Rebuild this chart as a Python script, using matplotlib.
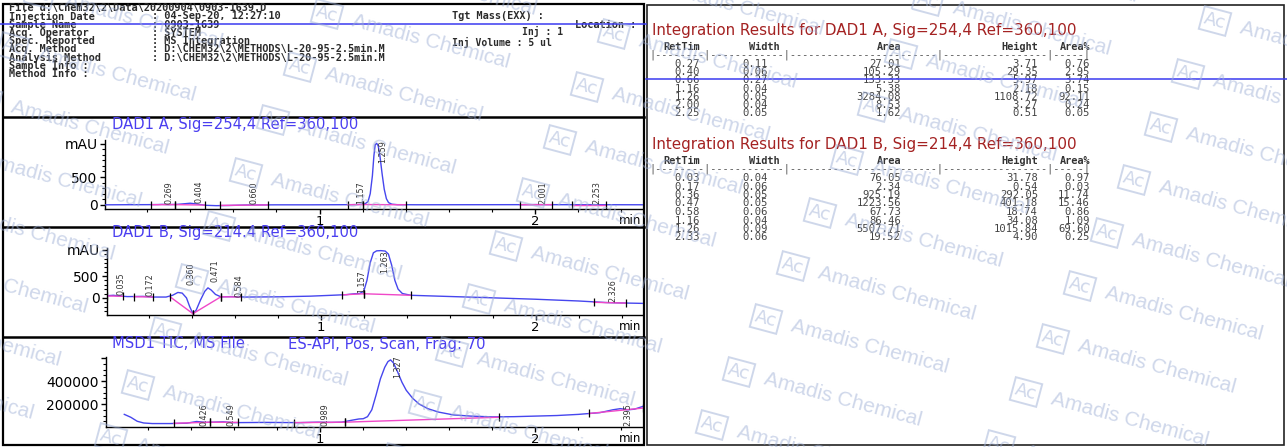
"""
HPLC / LC-MS report page (ChemStation style) with Amadis watermark.
"""

import numpy as np
import matplotlib
matplotlib.use('Agg')
import matplotlib.pyplot as plt
from matplotlib.patches import Rectangle

W, H = 1287, 447

# ── Data ────────────────────────────────────────────────────────────────────
header_labels = ["File d:\\Chem32\\2\\Data\\20200904\\0903-1639.D",
                 "Injection Date", "Sample Name", "Acq. Operator", "Spec. Reported",
                 "Acq. Method", "Analysis Method", "Sample Info :", "Method Info :"]
header_values = ["", ": 04-Sep-20, 12:27:10", ": 0903-1639", ": SYSTEM", ": MS Integration",
                 ": D:\\CHEM32\\2\\METHODS\\L-20-95-2.5min.M",
                 ": D:\\CHEM32\\2\\METHODS\\L-20-95-2.5min.M", "", ""]

col_names = ["RetTim", "Width", "Area", "Height", "Area%"]

tabA_title = "Integration Results for DAD1 A, Sig=254,4 Ref=360,100"
tabA_rt = ["0.27", "0.40", "0.66", "1.16", "1.26", "2.00", "2.25"]
tabA_width = ["0.11", "0.06", "0.27", "0.04", "0.05", "0.04", "0.05"]
tabA_area = ["27.01", "105.29", "133.33", "5.38", "3284.08", "8.53", "1.62"]
tabA_height = ["3.71", "29.35", "5.97", "2.18", "1108.72", "3.27", "0.51"]
tabA_pct = ["0.76", "2.95", "3.74", "0.15", "92.11", "0.24", "0.05"]

tabB_title = "Integration Results for DAD1 B, Sig=214,4 Ref=360,100"
tabB_rt = ["0.03", "0.17", "0.36", "0.47", "0.58", "1.16", "1.26", "2.33"]
tabB_width = ["0.04", "0.06", "0.05", "0.05", "0.06", "0.04", "0.09", "0.06"]
tabB_area = ["76.05", "2.34", "925.19", "1223.56", "67.73", "86.46", "5507.71", "19.52"]
tabB_height = ["31.78", "0.54", "292.05", "401.18", "18.74", "34.08", "1015.84", "4.90"]
tabB_pct = ["0.97", "0.03", "11.74", "15.46", "0.86", "1.09", "69.60", "0.25"]

# DAD1 A trace (min, mAU)
tA = [0.005, 0.10, 0.20, 0.25, 0.27, 0.30, 0.34, 0.37, 0.40, 0.43, 0.47, 0.52, 0.58,
      0.64, 0.66, 0.70, 0.80, 0.95, 1.10, 1.15, 1.18, 1.21, 1.225, 1.235, 1.245, 1.252,
      1.258, 1.265, 1.272, 1.28, 1.29, 1.30, 1.31, 1.32, 1.335, 1.36, 1.45, 1.70, 1.95,
      2.00, 2.05, 2.20, 2.25, 2.30, 2.50]
yA = [0, 2, 3, 5, 8, 4, 8, 18, 29, 15, -8, -15, -12, -5, -3, -2, 0, 0, 2, 3, 6, 15, 60,
      200, 520, 880, 1080, 1105, 1060, 880, 560, 280, 110, 40, 12, 3, 1, 2, 3, 5, 3, 2,
      3, 2, 1]
basesA = [(0.22, 2, 0.33, 4), (0.33, 4, 0.47, -5), (0.54, -10, 0.76, -2),
          (1.13, 2, 1.20, 5), (1.20, 5, 1.40, 1), (1.93, 2, 2.08, 3), (2.17, 2, 2.33, 2)]
peaksA = ["0.269", "0.404", "0.660", "1.157", "1.259", "2.001", "2.253"]
peaksA_y = [20, 40, 20, 20, 760, 20, 20]

# DAD1 B trace (min, mAU)
tB = [0.005, 0.035, 0.06, 0.10, 0.172, 0.22, 0.28, 0.31, 0.335, 0.355, 0.375, 0.39,
      0.405, 0.42, 0.44, 0.46, 0.475, 0.49, 0.51, 0.535, 0.584, 0.65, 0.80, 0.95, 1.05,
      1.12, 1.157, 1.18, 1.20, 1.215, 1.23, 1.245, 1.26, 1.28, 1.30, 1.315, 1.33, 1.345,
      1.36, 1.38, 1.42, 1.55, 1.75, 2.00, 2.20, 2.326, 2.40, 2.50]
yB = [50, 60, 45, 30, 35, 20, 20, 60, 125, 110, 0, -200, -360, -280, -50, 150, 230, 180,
      80, 25, 30, 20, 25, 40, 60, 75, 95, 100, 150, 400, 800, 1030, 1075, 1080, 1070,
      1000, 750, 400, 200, 100, 60, 40, 10, -30, -70, -105, -115, -125]
basesB = [(0.005, 45, 0.08, 38), (0.13, 28, 0.22, 22), (0.30, 20, 0.405, -360),
          (0.405, -360, 0.535, 25), (0.535, 25, 0.63, 22), (1.10, 70, 1.20, 95),
          (1.20, 95, 1.42, 60), (2.27, -100, 2.42, -118)]
peaksB = ["0.035", "0.172", "0.360", "0.471", "0.584", "1.157", "1.263", "2.326"]
peaksB_y = [60, 40, 300, 370, 30, 110, 580, -90]

# MSD1 TIC trace (min, counts)
tC = [0.09, 0.12, 0.15, 0.18, 0.22, 0.30, 0.38, 0.426, 0.47, 0.549, 0.60, 0.75, 0.90,
      0.989, 1.05, 1.10, 1.15, 1.18, 1.20, 1.22, 1.24, 1.26, 1.28, 1.30, 1.315, 1.327,
      1.34, 1.36, 1.38, 1.40, 1.43, 1.46, 1.50, 1.55, 1.62, 1.70, 1.80, 1.90, 2.00, 2.10,
      2.20, 2.30, 2.36, 2.395, 2.43, 2.46, 2.50]
yC = [110000, 85000, 50000, 35000, 30000, 30000, 33000, 48000, 40000, 45000, 38000,
      40000, 38000, 42000, 40000, 42000, 60000, 70000, 72000, 90000, 150000, 280000,
      420000, 520000, 570000, 585000, 560000, 480000, 390000, 320000, 250000, 200000,
      160000, 130000, 105000, 95000, 88000, 90000, 95000, 100000, 110000, 125000,
      150000, 160000, 150000, 155000, 180000]
basesC = [(0.32, 32000, 0.49, 42000), (0.49, 42000, 0.62, 40000),
          (0.88, 38000, 1.115, 42000), (1.115, 42000, 1.83, 85000),
          (2.25, 118000, 2.50, 165000)]
peaksC = ["0.426", "0.549", "0.989", "1.327", "2.395"]
peaksC_y = [5000, 5000, 5000, 430000, 10000]

# ── Style ───────────────────────────────────────────────────────────────────
TRACE = '#4646ee'
PINK = '#f048c8'
TITLE_BLUE = '#4a3ef0'
RED = '#a42222'
WM = '#9fb0d6'
MONO = 'DejaVu Sans Mono'
HDR = dict(family=MONO, fontsize=7.4, fontweight='bold', color='#2a2a2a', va='center')

fig = plt.figure(figsize=(W / 100, H / 100), dpi=100)

bg = fig.add_axes([0, 0, 1, 1])
bg.set_xlim(0, W)
bg.set_ylim(H, 0)
bg.axis('off')

# frames
bg.add_patch(Rectangle((3, 4), 641, 441, fill=False, ec='black', lw=1.6))
for yy in [117, 227, 337]:
    bg.plot([3, 644], [yy, yy], color='black', lw=1.8)
bg.add_patch(Rectangle((647, 5), 637, 440, fill=False, ec='#222222', lw=1.2))

# header block
for i, (lab, val) in enumerate(zip(header_labels, header_values)):
    y = 8 + 8.25 * i
    bg.text(9, y, lab, **HDR)
    if val:
        bg.text(152, y, val, **HDR)
bg.text(452, 8 + 8.25, "Tgt Mass(EXX) :", **HDR)
bg.text(636, 8 + 8.25 * 2, "Location :", ha='right', **HDR)
bg.text(522, 31.5, "Inj : 1", family=MONO, fontsize=7.0, fontweight='bold',
        color='#2a2a2a', va='center')
bg.text(452, 42.2, "Inj Volume : 5 ul", family=MONO, fontsize=7.0, fontweight='bold',
        color='#2a2a2a', va='center')

# integration tables
col_right = [700, 768, 901, 1038, 1090]
head_right = [700, 780, 901, 1038, 1090]
sep = "|" + "-" * 8 + "|" + "-" * 12 + "|" + "-" * 24 + "|" + "-" * 17 + "|" + "-" * 5 + "|"


def table(y0, title, cols, row_gap):
    bg.text(652, y0, title, fontsize=10.9, color=RED, va='center')
    for name, x in zip(col_names, head_right):
        bg.text(x, y0 + 17, name, family=MONO, fontsize=7.4, fontweight='bold',
                color='#333333', va='center', ha='right')
    bg.text(649, y0 + 25, sep, family=MONO, fontsize=7.4, color='#555555', va='center')
    for i, row in enumerate(zip(*cols)):
        for val, x in zip(row, col_right):
            bg.text(x, y0 + 34 + row_gap * i, val, family=MONO, fontsize=7.6,
                    color='#444444', va='center', ha='right')


table(30, tabA_title, [tabA_rt, tabA_width, tabA_area, tabA_height, tabA_pct], 8.2)
table(144, tabB_title, [tabB_rt, tabB_width, tabB_area, tabB_height, tabB_pct], 8.5)


# chromatograms
def chrom(box, t, y, bases, peaks, peaks_y, ylim, yticks, yticklabels, yminor):
    l, top, r, b = box
    ax = fig.add_axes([l / W, 1 - b / H, (r - l) / W, (b - top) / H])
    ax.patch.set_alpha(0)
    ax.plot(t, y, color=TRACE, lw=1.0, zorder=3)
    for x0, y0, x1, y1 in bases:
        ax.plot([x0, x1], [y0, y1], color=PINK, lw=1.0, zorder=4)
        ax.plot([x0, x1], [y0, y1], ls='none', marker='|', ms=6, mew=0.9, color='black', zorder=5)
    for s, yl in zip(peaks, peaks_y):
        ax.text(float(s) + 0.035, yl, s, rotation=90, fontsize=5.8, color='#333333',
                ha='center', va='bottom', zorder=6)
    ax.set_xlim(0.005, 2.50)
    ax.set_ylim(*ylim)
    ax.set_xticks([1, 2])
    ax.set_xticklabels(['1', '2'])
    ax.set_xticks(np.arange(0.2, 2.5, 0.2), minor=True)
    ax.set_yticks(yticks)
    ax.set_yticklabels(yticklabels)
    ax.set_yticks(yminor, minor=True)
    for sp in ['top', 'right']:
        ax.spines[sp].set_visible(False)
    for sp in ['left', 'bottom']:
        ax.spines[sp].set_linewidth(1.0)
    ax.tick_params(which='major', length=3.8, width=1, labelsize=10, pad=1.5)
    ax.tick_params(axis='x', which='major', labelsize=9.5, pad=0.3)
    ax.tick_params(which='minor', length=2.5, width=0.8)
    ax.annotate('min', xy=(1, 0), xycoords='axes fraction', xytext=(-9, -8.2),
                textcoords='offset points', ha='center', va='center', fontsize=8.5)
    return ax


chrom((105, 140, 643, 209), tA, yA, basesA, peaksA, peaksA_y, (-75, 1165),
      [0, 500, 1100], ['0', '500', 'mAU'], np.arange(-0, 1101, 100))
chrom((107, 248, 643, 315), tB, yB, basesB, peaksB, peaksB_y, (-390, 1140),
      [0, 500, 1100], ['0', '500', 'mAU'], np.arange(-300, 1101, 100))
chrom((106, 357, 643, 427), tC, yC, basesC, peaksC, peaksC_y, (0, 610000),
      [200000, 400000, 600000], ['200000', '400000', ''], np.arange(50000, 600001, 50000))

bg.text(112, 124, "DAD1 A, Sig=254,4 Ref=360,100", fontsize=10.6, color=TITLE_BLUE, va='center')
bg.text(112, 233, "DAD1 B, Sig=214.4 Ref=360,100", fontsize=10.6, color=TITLE_BLUE, va='center')
bg.text(112, 344, "MSD1 TIC, MS File", fontsize=10.6, color=TITLE_BLUE, va='center')
bg.text(288, 344, "ES-API, Pos, Scan, Frag: 70", fontsize=10.6, color=TITLE_BLUE, va='center')

# ── Watermark overlay + scan lines ─────────────────────────────────────────
wm = fig.add_axes([0, 0, 1, 1], zorder=10)
wm.set_xlim(0, W)
wm.set_ylim(H, 0)
wm.axis('off')
wm.plot([0, 646], [23.5, 23.5], color='#3a3af0', lw=1.1)
wm.plot([646, W], [79, 79], color='#3a3af0', lw=1.1)

ang = np.deg2rad(15)
for i in range(-4, 5):
    for j in range(-8, 6):
        x = 793 + 287 * i - 27 * j
        y = 266 + 20 * i + 53 * j
        if -320 < x < W + 20 and -60 < y < H + 30:
            wm.text(x, y, 'Ac', rotation=-15, rotation_mode='anchor', fontsize=13,
                    color=WM, alpha=0.5, ha='center', va='center',
                    bbox=dict(boxstyle='square,pad=0.15', fc='none', ec=WM, lw=1.4, alpha=0.5))
            wm.text(x + 26 * np.cos(ang), y + 26 * np.sin(ang), 'Amadis Chemical',
                    rotation=-15, rotation_mode='anchor', fontsize=15, color=WM, alpha=0.5,
                    ha='left', va='center', family='Liberation Sans')

fig.savefig('out.png', dpi=100)
